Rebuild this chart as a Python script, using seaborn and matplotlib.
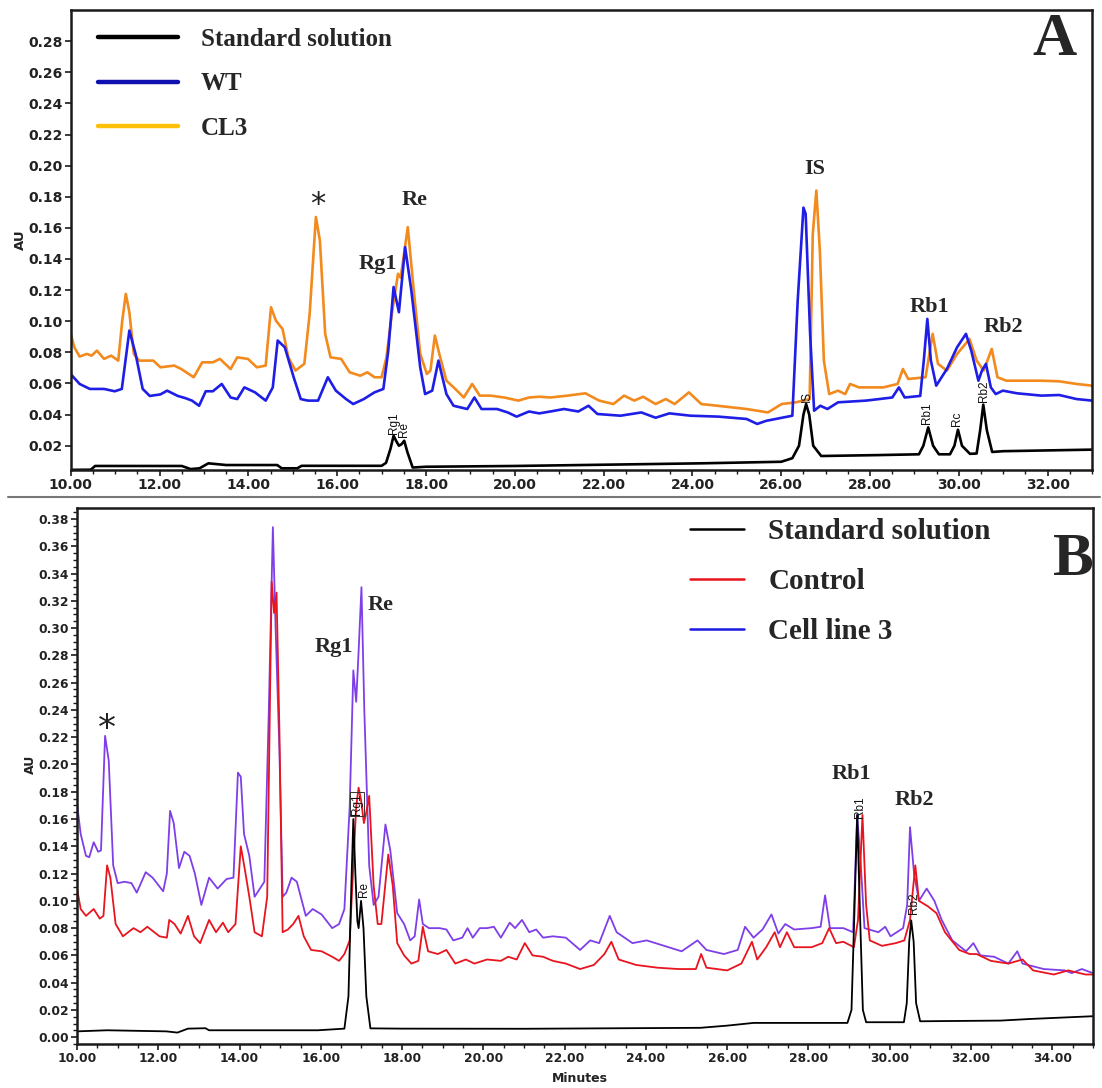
import matplotlib.pyplot as plt
import pandas as pd
import seaborn as sns
from matplotlib.lines import Line2D
from matplotlib.ticker import FormatStrFormatter, MultipleLocator

# Panel A: retention time (min), absorbance (AU)
std_a = [(10.0, 0.0045), (10.45, 0.0046), (10.55, 0.007), (12.5, 0.007), (12.7, 0.005),
         (12.9, 0.0055), (13.1, 0.0087), (13.5, 0.0076), (14.65, 0.0076), (14.75, 0.0055),
         (15.1, 0.0055), (15.2, 0.0071), (17.0, 0.0071), (17.1, 0.009), (17.2, 0.018),
         (17.27, 0.0264), (17.33, 0.023), (17.39, 0.02), (17.45, 0.021), (17.51, 0.0232),
         (17.58, 0.016), (17.7, 0.006), (18.0, 0.0065), (20.0, 0.007), (22.0, 0.0078),
         (24.2, 0.0087), (26.0, 0.0097), (26.25, 0.012), (26.4, 0.02), (26.5, 0.04),
         (26.56, 0.0468), (26.63, 0.04), (26.72, 0.02), (26.9, 0.0134), (28.2, 0.014),
         (29.1, 0.0145), (29.2, 0.02), (29.31, 0.0318), (29.42, 0.02), (29.55, 0.0145),
         (29.8, 0.0145), (29.9, 0.02), (29.98, 0.0303), (30.07, 0.02), (30.25, 0.0148),
         (30.4, 0.015), (30.48, 0.03), (30.55, 0.0464), (30.63, 0.03), (30.75, 0.016),
         (31.0, 0.0165), (33.0, 0.0175)]

wt_a = [(10.0, 0.066), (10.2, 0.0597), (10.43, 0.0565), (10.75, 0.0565), (10.99, 0.055),
        (11.15, 0.0565), (11.32, 0.094), (11.46, 0.079), (11.62, 0.0565), (11.78, 0.052),
        (12.02, 0.053), (12.17, 0.0554), (12.41, 0.052), (12.57, 0.0507), (12.73, 0.049),
        (12.89, 0.0457), (13.04, 0.055), (13.2, 0.055), (13.4, 0.0597), (13.6, 0.051),
        (13.75, 0.05), (13.91, 0.0575), (14.15, 0.0543), (14.39, 0.049), (14.55, 0.0575),
        (14.66, 0.0876), (14.82, 0.0833), (15.02, 0.064), (15.18, 0.05), (15.34, 0.049),
        (15.57, 0.049), (15.79, 0.064), (15.97, 0.0554), (16.2, 0.05), (16.36, 0.0468),
        (16.6, 0.05), (16.84, 0.0543), (17.04, 0.0565), (17.15, 0.081), (17.27, 0.122),
        (17.39, 0.1058), (17.53, 0.1476), (17.67, 0.1197), (17.87, 0.0704), (17.98, 0.0532),
        (18.14, 0.0554), (18.28, 0.0747), (18.46, 0.0532), (18.62, 0.0457), (18.93, 0.0436),
        (19.09, 0.051), (19.25, 0.0436), (19.6, 0.0436), (19.84, 0.0414), (20.04, 0.0387),
        (20.32, 0.042), (20.55, 0.0408), (20.8, 0.042), (21.11, 0.0436), (21.43, 0.042),
        (21.66, 0.0457), (21.86, 0.0404), (22.38, 0.0393), (22.85, 0.0414), (23.17, 0.038),
        (23.48, 0.0408), (23.96, 0.0393), (24.59, 0.0387), (25.22, 0.0372), (25.46, 0.034),
        (25.66, 0.036), (26.25, 0.0393), (26.37, 0.113), (26.5, 0.173), (26.55, 0.169),
        (26.65, 0.092), (26.74, 0.0425), (26.88, 0.0457), (27.04, 0.0436), (27.28, 0.0479),
        (27.91, 0.049), (28.5, 0.051), (28.65, 0.0575), (28.78, 0.051), (29.13, 0.052),
        (29.21, 0.0747), (29.29, 0.1015), (29.37, 0.0747), (29.49, 0.0586), (29.73, 0.0693),
        (29.96, 0.0833), (30.16, 0.0919), (30.28, 0.081), (30.44, 0.0618), (30.52, 0.0683),
        (30.61, 0.0726), (30.72, 0.0575), (30.83, 0.0532), (30.99, 0.0554), (31.31, 0.0537),
        (31.86, 0.0522), (32.26, 0.0526), (32.65, 0.05), (33.0, 0.049)]

cl3_a = [(10.0, 0.0919), (10.08, 0.0833), (10.2, 0.0773), (10.36, 0.079), (10.47, 0.0779),
         (10.59, 0.0811), (10.75, 0.0758), (10.91, 0.0779), (11.07, 0.0747), (11.16, 0.1004),
         (11.24, 0.1176), (11.32, 0.1058), (11.42, 0.079), (11.54, 0.0747), (11.86, 0.0747),
         (12.02, 0.0704), (12.33, 0.0715), (12.49, 0.0693), (12.77, 0.064), (12.96, 0.0736),
         (13.2, 0.0736), (13.36, 0.0758), (13.6, 0.0693), (13.75, 0.0768), (13.99, 0.0758),
         (14.19, 0.0704), (14.39, 0.0715), (14.51, 0.109), (14.62, 0.1004), (14.77, 0.095),
         (14.9, 0.0768), (15.06, 0.0683), (15.26, 0.0726), (15.38, 0.1047), (15.52, 0.167),
         (15.61, 0.152), (15.73, 0.0919), (15.85, 0.0768), (16.09, 0.0758), (16.28, 0.0672),
         (16.52, 0.065), (16.68, 0.0672), (16.84, 0.064), (17.0, 0.064), (17.11, 0.0768),
         (17.23, 0.1047), (17.37, 0.1305), (17.43, 0.128), (17.59, 0.1605), (17.71, 0.124),
         (17.87, 0.079), (18.02, 0.0661), (18.1, 0.0683), (18.2, 0.0908), (18.3, 0.079),
         (18.46, 0.0618), (18.66, 0.0565), (18.85, 0.051), (19.04, 0.0597), (19.21, 0.0522),
         (19.45, 0.0522), (19.76, 0.051), (20.08, 0.049), (20.32, 0.051), (20.55, 0.0515),
         (20.8, 0.051), (21.19, 0.0522), (21.59, 0.0537), (21.9, 0.049), (22.22, 0.0468),
         (22.46, 0.0522), (22.69, 0.049), (22.89, 0.0515), (23.17, 0.0468), (23.4, 0.05),
         (23.6, 0.0468), (23.92, 0.0543), (24.2, 0.0468), (24.75, 0.0451), (25.22, 0.0436),
         (25.7, 0.0414), (26.01, 0.0468), (26.33, 0.0479), (26.64, 0.05), (26.71, 0.156),
         (26.79, 0.184), (26.87, 0.145), (26.96, 0.0747), (27.08, 0.0532), (27.28, 0.0554),
         (27.44, 0.0532), (27.55, 0.0597), (27.75, 0.0575), (28.3, 0.0575), (28.62, 0.0597),
         (28.74, 0.0693), (28.86, 0.0629), (29.25, 0.064), (29.41, 0.0919), (29.53, 0.0726),
         (29.73, 0.0683), (29.96, 0.079), (30.24, 0.0886), (30.4, 0.0747), (30.56, 0.0683),
         (30.74, 0.0822), (30.87, 0.064), (31.07, 0.0618), (31.86, 0.0618), (32.26, 0.0614),
         (32.65, 0.0597), (33.0, 0.0586)]

# Panel B
std_b = [(10.0, 0.0043), (10.74, 0.0051), (12.2, 0.0043), (12.47, 0.0034), (12.73, 0.0063),
         (13.16, 0.0066), (13.25, 0.0051), (15.93, 0.0051), (16.58, 0.0063), (16.68, 0.03),
         (16.75, 0.11), (16.8, 0.16), (16.85, 0.12), (16.9, 0.085), (16.93, 0.08),
         (16.99, 0.1), (17.05, 0.08), (17.12, 0.03), (17.22, 0.0065), (18.0, 0.0063),
         (21.0, 0.0062), (25.34, 0.0069), (26.0, 0.0085), (26.65, 0.0105), (28.96, 0.0105),
         (29.06, 0.02), (29.13, 0.09), (29.2, 0.163), (29.27, 0.09), (29.34, 0.02),
         (29.42, 0.011), (30.35, 0.011), (30.42, 0.025), (30.48, 0.07), (30.53, 0.0857),
         (30.59, 0.07), (30.65, 0.025), (30.75, 0.0117), (32.73, 0.0122), (33.47, 0.0134),
         (35.0, 0.0154)]

control_b = [(10.0, 0.109), (10.09, 0.094), (10.22, 0.089), (10.41, 0.094), (10.56, 0.087),
             (10.65, 0.089), (10.74, 0.126), (10.82, 0.117), (10.95, 0.083), (11.13, 0.074),
             (11.39, 0.08), (11.56, 0.077), (11.73, 0.081), (12.03, 0.074), (12.21, 0.073),
             (12.27, 0.086), (12.4, 0.083), (12.55, 0.076), (12.73, 0.089), (12.88, 0.074),
             (13.03, 0.069), (13.25, 0.086), (13.42, 0.077), (13.59, 0.084), (13.72, 0.077),
             (13.9, 0.083), (14.03, 0.14), (14.13, 0.123), (14.24, 0.103), (14.37, 0.077),
             (14.55, 0.074), (14.68, 0.103), (14.79, 0.334), (14.85, 0.311), (14.91, 0.326),
             (14.98, 0.226), (15.06, 0.077), (15.19, 0.079), (15.32, 0.083), (15.45, 0.089),
             (15.58, 0.074), (15.76, 0.064), (16.02, 0.063), (16.28, 0.059), (16.45, 0.056),
             (16.58, 0.061), (16.71, 0.071), (16.8, 0.126), (16.87, 0.169), (16.93, 0.183),
             (16.99, 0.174), (17.06, 0.157), (17.12, 0.165), (17.19, 0.177), (17.3, 0.111),
             (17.4, 0.083), (17.49, 0.083), (17.66, 0.134), (17.77, 0.111), (17.88, 0.069),
             (18.05, 0.06), (18.23, 0.054), (18.4, 0.056), (18.51, 0.081), (18.64, 0.063),
             (18.88, 0.061), (19.09, 0.064), (19.31, 0.054), (19.57, 0.057), (19.78, 0.054),
             (20.09, 0.057), (20.43, 0.056), (20.61, 0.059), (20.82, 0.057), (21.02, 0.069),
             (21.21, 0.06), (21.47, 0.059), (21.71, 0.056), (22.03, 0.054), (22.38, 0.05),
             (22.72, 0.053), (22.98, 0.061), (23.15, 0.07), (23.33, 0.057), (23.76, 0.053),
             (24.28, 0.051), (24.8, 0.05), (25.23, 0.05), (25.36, 0.061), (25.49, 0.051),
             (26.0, 0.049), (26.35, 0.054), (26.61, 0.07), (26.74, 0.057), (26.96, 0.066),
             (27.17, 0.077), (27.3, 0.066), (27.47, 0.077), (27.65, 0.066), (28.08, 0.066),
             (28.34, 0.069), (28.51, 0.08), (28.68, 0.069), (28.86, 0.07), (29.12, 0.066),
             (29.22, 0.086), (29.33, 0.163), (29.42, 0.097), (29.51, 0.071), (29.81, 0.067),
             (30.15, 0.069), (30.36, 0.071), (30.5, 0.086), (30.63, 0.126), (30.72, 0.1),
             (30.94, 0.096), (31.15, 0.091), (31.36, 0.077), (31.71, 0.064), (31.97, 0.061),
             (32.14, 0.061), (32.49, 0.056), (32.92, 0.054), (33.27, 0.057), (33.53, 0.049),
             (34.04, 0.046), (34.39, 0.049), (34.82, 0.046), (35.0, 0.046)]

line3_b = [(10.0, 0.171), (10.09, 0.149), (10.22, 0.133), (10.3, 0.132), (10.41, 0.143),
           (10.52, 0.136), (10.59, 0.137), (10.69, 0.221), (10.78, 0.203), (10.89, 0.126),
           (11.0, 0.113), (11.17, 0.114), (11.34, 0.113), (11.47, 0.106), (11.69, 0.121),
           (11.86, 0.117), (12.12, 0.107), (12.21, 0.12), (12.29, 0.166), (12.38, 0.157),
           (12.51, 0.124), (12.64, 0.136), (12.77, 0.133), (12.9, 0.12), (13.06, 0.097),
           (13.25, 0.117), (13.46, 0.109), (13.68, 0.116), (13.85, 0.117), (13.96, 0.194),
           (14.03, 0.191), (14.11, 0.149), (14.24, 0.133), (14.37, 0.103), (14.5, 0.109),
           (14.61, 0.114), (14.72, 0.24), (14.82, 0.374), (14.89, 0.297), (14.98, 0.211),
           (15.06, 0.103), (15.15, 0.106), (15.28, 0.117), (15.41, 0.114), (15.63, 0.089),
           (15.8, 0.094), (16.02, 0.09), (16.28, 0.08), (16.45, 0.083), (16.58, 0.094),
           (16.71, 0.169), (16.8, 0.269), (16.87, 0.246), (16.93, 0.283), (17.0, 0.33),
           (17.07, 0.24), (17.19, 0.126), (17.3, 0.097), (17.42, 0.103), (17.59, 0.156),
           (17.71, 0.137), (17.88, 0.091), (18.05, 0.083), (18.2, 0.071), (18.31, 0.074),
           (18.42, 0.101), (18.51, 0.083), (18.66, 0.08), (18.92, 0.08), (19.09, 0.079),
           (19.26, 0.071), (19.48, 0.073), (19.61, 0.08), (19.74, 0.073), (19.91, 0.08),
           (20.09, 0.08), (20.26, 0.081), (20.43, 0.073), (20.65, 0.084), (20.78, 0.08),
           (20.95, 0.086), (21.13, 0.077), (21.3, 0.079), (21.47, 0.073), (21.71, 0.074),
           (22.03, 0.073), (22.38, 0.064), (22.63, 0.071), (22.85, 0.069), (23.11, 0.089),
           (23.28, 0.077), (23.67, 0.069), (24.02, 0.071), (24.45, 0.067), (24.88, 0.063),
           (25.27, 0.071), (25.49, 0.064), (25.92, 0.061), (26.26, 0.064), (26.44, 0.081),
           (26.65, 0.073), (26.87, 0.079), (27.09, 0.09), (27.26, 0.076), (27.43, 0.083),
           (27.65, 0.079), (28.08, 0.08), (28.3, 0.081), (28.41, 0.104), (28.53, 0.08),
           (28.86, 0.08), (29.1, 0.077), (29.2, 0.163), (29.29, 0.126), (29.38, 0.08),
           (29.72, 0.077), (29.89, 0.081), (30.02, 0.074), (30.33, 0.08), (30.43, 0.097),
           (30.5, 0.154), (30.6, 0.12), (30.72, 0.1), (30.91, 0.109), (31.1, 0.1),
           (31.28, 0.086), (31.54, 0.071), (31.88, 0.063), (32.06, 0.069), (32.23, 0.06),
           (32.57, 0.059), (32.92, 0.054), (33.14, 0.063), (33.27, 0.054), (33.79, 0.05),
           (34.31, 0.049), (34.48, 0.047), (34.73, 0.05), (35.0, 0.047)]

# peak names (bold) and the small rotated names on the standard trace
peaks_a = [("*", 15.57, 0.175), ("Rg1", 16.92, 0.137), ("Re", 17.75, 0.178),
           ("IS", 26.76, 0.198), ("Rb1", 29.33, 0.109), ("Rb2", 31.0, 0.096)]
std_tags_a = [("Rg1", 17.27, 0.0275), ("Re", 17.51, 0.0255), ("IS", 26.57, 0.048),
              ("Rb1", 29.29, 0.034), ("Rc", 29.96, 0.033), ("Rb2", 30.57, 0.048)]
peaks_b = [("*", 10.73, 0.226), ("Rg1", 16.32, 0.286), ("Re", 17.47, 0.317),
           ("Rb1", 29.05, 0.193), ("Rb2", 30.6, 0.174)]
std_tags_b = [("Rg1", 16.88, 0.163), ("Re", 17.06, 0.103),
              ("Rb1", 29.27, 0.161), ("Rb2", 30.59, 0.09)]

legend_a = ["Standard solution", "WT", "CL3"]
legend_b = ["Standard solution", "Control", "Cell line 3"]

SERIF = "Liberation Serif"


def trace(ax, pts, color, lw):
    df = pd.DataFrame(pts, columns=["minutes", "au"])
    sns.lineplot(data=df, x="minutes", y="au", ax=ax, color=color, lw=lw,
                 estimator=None, sort=False, legend=False)


def style_axes(ax, xlim, ylim, xmax_tick, ymax_tick, size, yminor=None):
    ax.set_xlim(*xlim)
    ax.set_ylim(*ylim)
    ax.set_xticks([10 + 2 * i for i in range(int((xmax_tick - 10) / 2) + 1)])
    ax.set_yticks([round(0.02 * i, 2) for i in range(int(round(ymax_tick / 0.02)) + 1)
                   if 0.02 * i >= ylim[0] - 1e-9 and (0.02 * i > 0.001 or ylim[0] < 0)])
    ax.xaxis.set_minor_locator(MultipleLocator(0.5))
    if yminor:
        ax.yaxis.set_minor_locator(MultipleLocator(yminor))
    ax.xaxis.set_major_formatter(FormatStrFormatter("%.2f"))
    ax.yaxis.set_major_formatter(FormatStrFormatter("%.2f"))
    ax.tick_params(which="major", direction="out", length=4, width=1.2, color="k",
                   labelsize=size, pad=2, bottom=True, left=True)
    ax.tick_params(which="minor", direction="out", length=3, width=1, color="k",
                   bottom=True, left=yminor is not None)
    for lab in ax.get_xticklabels() + ax.get_yticklabels():
        lab.set_fontweight("bold")
        lab.set_color("#222222")
    for sp in ax.spines.values():
        sp.set_visible(True)
        sp.set_color("k")
        sp.set_linewidth(1.8)
    ax.set_xlabel("")
    ax.set_ylabel("")
    ax.grid(False)


def main():
    sns.set_theme(style="white")
    plt.rcParams["font.family"] = ["DejaVu Sans"]

    fig = plt.figure(figsize=(11.02, 10.88), dpi=100)
    ax_a = fig.add_axes([0.0642, 0.568, 0.9268, 0.4228])
    ax_b = fig.add_axes([0.0699, 0.0404, 0.9218, 0.4926])

    # ---- panel A
    trace(ax_a, cl3_a, "#F28A1E", 1.9)
    trace(ax_a, wt_a, "#1E1EE6", 1.9)
    trace(ax_a, std_a, "black", 1.9)
    style_axes(ax_a, (10, 33), (0.0044, 0.30), 32, 0.28, 10)

    for name, t, au in peaks_a:
        if name == "*":
            ax_a.text(t, au, name, ha="center", va="center", fontsize=22, color="#222222")
        else:
            ax_a.text(t, au, name, ha="center", va="center", fontsize=16,
                      fontweight="bold", family=SERIF)
    for name, t, au in std_tags_a:
        ax_a.text(t, au, name, rotation=90, ha="center", va="bottom", fontsize=8.5,
                  family="Liberation Sans", color="#111111")

    hnd_a = [Line2D([], [], color=c, lw=3.2) for c in ["black", "#1010B0", "#FFC107"]]
    ax_a.legend(hnd_a, legend_a, loc="upper left", bbox_to_anchor=(0.027, 0.961),
                frameon=False, borderpad=0, borderaxespad=0, handlelength=3.2,
                handletextpad=0.9, labelspacing=0.86,
                prop={"family": SERIF, "weight": "bold", "size": 18})
    ax_a.text(0.985, 0.902, "A", transform=ax_a.transAxes, ha="right", va="baseline",
              fontsize=44, fontweight="bold", family=SERIF)

    # ---- panel B
    trace(ax_b, line3_b, "#7F3FE8", 1.3)
    trace(ax_b, control_b, "#E8141E", 1.3)
    trace(ax_b, std_b, "black", 1.3)
    style_axes(ax_b, (10, 35), (-0.005, 0.388), 34, 0.38, 8.8, yminor=0.005)

    for name, t, au in peaks_b:
        if name == "*":
            ax_b.text(t, au, name, ha="center", va="center", fontsize=26, color="#222222")
        else:
            ax_b.text(t, au, name, ha="center", va="center", fontsize=16,
                      fontweight="bold", family=SERIF)
    for name, t, au in std_tags_b:
        box = None
        if name == "Rg1":
            box = dict(boxstyle="square,pad=0.08", fc="none", ec="#333333", lw=0.7)
        ax_b.text(t, au, name, rotation=90, ha="center", va="bottom", fontsize=8.5,
                  family="Liberation Sans", color="#111111", bbox=box)

    hnd_b = [Line2D([], [], color=c, lw=1.8) for c in ["black", "#E8141E", "#1A1AE0"]]
    ax_b.legend(hnd_b, legend_b, loc="upper left", bbox_to_anchor=(0.6035, 0.982),
                frameon=False, borderpad=0, borderaxespad=0, handlelength=1.85,
                handletextpad=0.83, labelspacing=0.79,
                prop={"family": SERIF, "weight": "bold", "size": 21})
    ax_b.text(0.961, 0.875, "B", transform=ax_b.transAxes, ha="left", va="baseline",
              fontsize=44, fontweight="bold", family=SERIF)

    # axis titles and the rule between the panels
    fig.text(20 / 1102, 1 - 240 / 1088, "AU", rotation=90, ha="center", va="center",
             fontsize=9.5, fontweight="bold", color="#222222")
    fig.text(30 / 1102, 1 - 764 / 1088, "AU", rotation=90, ha="center", va="center",
             fontsize=9, fontweight="bold", color="#222222")
    fig.text(580 / 1102, 1 - 1078 / 1088, "Minutes", ha="center", va="center",
             fontsize=9, fontweight="bold", color="#222222")
    fig.add_artist(Line2D([8 / 1102, 1100 / 1102], [1 - 497 / 1088, 1 - 497 / 1088],
                          transform=fig.transFigure, color="#777777", lw=1.5))

    fig.savefig("out.png", dpi=100)


if __name__ == "__main__":
    main()
